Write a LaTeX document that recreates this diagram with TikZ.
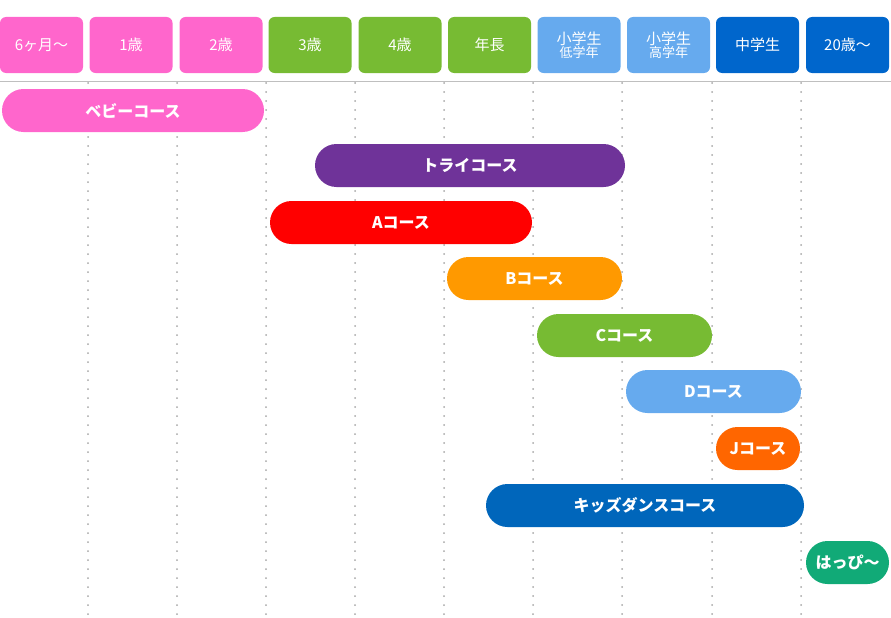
\documentclass[tikz,border=0pt]{standalone}
\usepackage{fontspec}
\setmainfont{Noto Sans CJK JP}
\usetikzlibrary{backgrounds}

\definecolor{cpink}{HTML}{FF66CC}
\definecolor{cgreen}{HTML}{77BB33}
\definecolor{clblue}{HTML}{66AAEE}
\definecolor{cdblue}{HTML}{0066CC}
\definecolor{cpurple}{HTML}{6F3399}
\definecolor{cred}{HTML}{FF0000}
\definecolor{corange}{HTML}{FF9900}
\definecolor{cdorange}{HTML}{FF6600}
\definecolor{ckids}{HTML}{0066BB}
\definecolor{cteal}{HTML}{11AA77}

\tikzset{
  hdr/.style={fill=#1, text=white, rounded corners=6pt, minimum width=83pt,
    minimum height=56pt, inner sep=0pt, font=\fontsize{15}{16}\selectfont,
    align=center},
  bar/.style={fill=#1, text=white, rounded corners=21.5pt, minimum height=43pt,
    inner sep=0pt, font=\fontsize{16}{18}\selectfont\bfseries},
}

\begin{document}
\begin{tikzpicture}[x=1pt,y=-1pt]
  \useasboundingbox (0,0) rectangle (891,618);

  % dotted grid
  \foreach \gx in {88,177,266,355,444,533,622,712,801}
    \draw[gray!70, line width=2pt, dash pattern=on 0pt off 9pt, line cap=round] (\gx,83) -- (\gx,618);
  \draw[gray!50, line width=1pt] (0,81) -- (891,81);

  % headers
  \node[hdr=cpink]  at (41.5,45)  (H0) {6ヶ月〜};
  \node[hdr=cpink]  at (131,45)   (H1) {1歳};
  \node[hdr=cpink]  at (221,45)   (H2) {2歳};
  \node[hdr=cgreen] at (310,45)   (H3) {3歳};
  \node[hdr=cgreen] at (400,45)   (H4) {4歳};
  \node[hdr=cgreen] at (489.5,45) (H5) {年長};
  \node[hdr=clblue] at (579,45)   (H6) {小学生\\[-3pt]{\fontsize{13}{14}\selectfont 低学年}};
  \node[hdr=clblue] at (668.5,45) (H7) {小学生\\[-3pt]{\fontsize{13}{14}\selectfont 高学年}};
  \node[hdr=cdblue] at (757.5,45) (H8) {中学生};
  \node[hdr=cdblue] at (847.5,45) (H9) {20歳〜};

  % courses
  \node[bar=cpink,   minimum width=262pt] at (133,110.5)   (baby) {ベビーコース};
  \node[bar=cpurple, minimum width=310pt] at (470,165.5)   (try)  {トライコース};
  \node[bar=cred,    minimum width=262pt] at (401,222.5)   (A)    {Aコース};
  \node[bar=corange, minimum width=175pt] at (534.5,278.5) (B)    {Bコース};
  \node[bar=cgreen,  minimum width=175pt] at (624.5,335.5) (C)    {Cコース};
  \node[bar=clblue,  minimum width=175pt] at (713.5,391.5) (D)    {Dコース};
  \node[bar=cdorange,minimum width=84pt]  at (758,448.5)   (J)    {Jコース};
  \node[bar=ckids,   minimum width=318pt] at (645,505.5)   (kids) {キッズダンスコース};
  \node[bar=cteal,   minimum width=83pt]  at (847.5,562.5) (happy){はっぴ〜};

\end{tikzpicture}
\end{document}
